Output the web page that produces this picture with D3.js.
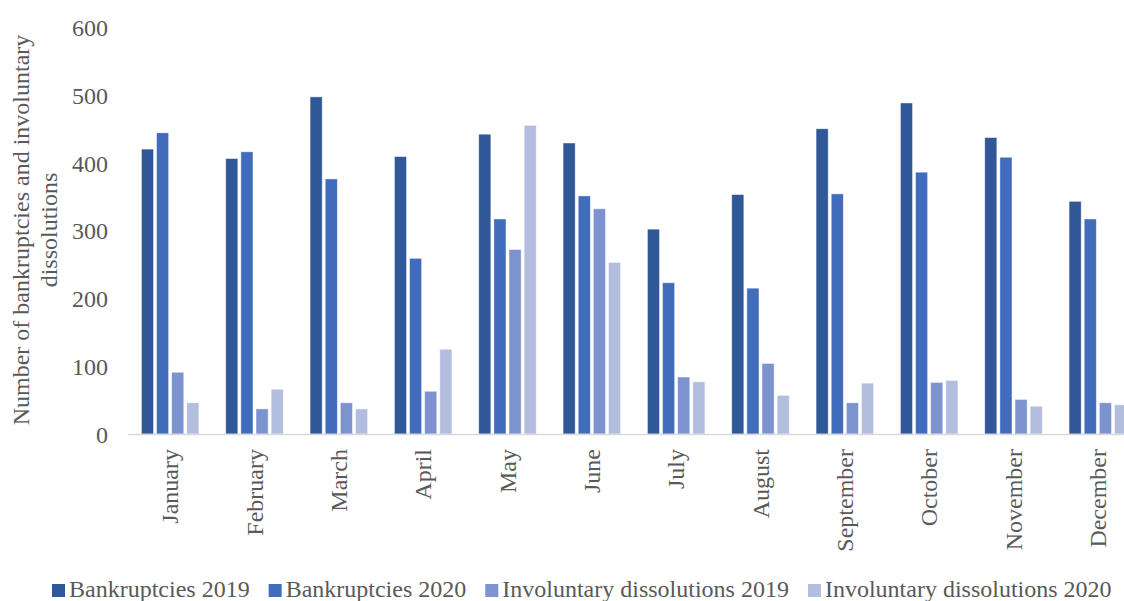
<!DOCTYPE html>
<html>
<head>
<meta charset="utf-8">
<script src="https://cdn.jsdelivr.net/npm/d3@7"></script>
<style>
  body { margin: 0; background: #fff; }
  text { font-family: "Liberation Serif", "Times New Roman", serif; fill: #595959; }
</style>
</head>
<body>
<svg id="chart" width="1124" height="601"></svg>
<script>
// month categories
var months = ['January', 'February', 'March', 'April', 'May', 'June',
              'July', 'August', 'September', 'October', 'November', 'December'];
// series names, as in the legend
var seriesNames = ['Bankruptcies 2019', 'Bankruptcies 2020',
                   'Involuntary dissolutions 2019', 'Involuntary dissolutions 2020'];
var seriesColors = ['#305797', '#416BBB', '#7C93D0', '#B3BEDF'];

// values
var bankruptcies2019 = [420, 406, 497, 409, 442, 429, 302, 353, 450, 488, 437, 343];
var bankruptcies2020 = [444, 416, 376, 259, 317, 351, 223, 215, 354, 386, 408, 317];
var dissolutions2019 = [91, 37, 46, 63, 272, 332, 84, 104, 46, 76, 51, 46];
var dissolutions2020 = [46, 66, 37, 125, 455, 253, 77, 57, 75, 79, 41, 43];
var yTicks = [0, 100, 200, 300, 400, 500, 600];

var seriesValues = [bankruptcies2019, bankruptcies2020, dissolutions2019, dissolutions2020];

var svg = d3.select('#chart');

// scales
var x = d3.scaleBand()
    .domain(months)
    .range([128, 1140])
    .paddingInner(0.318)
    .paddingOuter(0.159);
var xInner = d3.scaleBand()
    .domain(seriesNames)
    .range([0, x.bandwidth()])
    .paddingInner(0.2);
var y = d3.scaleLinear()
    .domain([0, 600])
    .range([434, 27]);

// bars
var groups = svg.append('g')
  .selectAll('g')
  .data(months)
  .join('g')
    .attr('transform', function(d) { return 'translate(' + x(d) + ',0)'; });

groups.selectAll('rect')
  .data(function(d, i) {
    return seriesNames.map(function(s, j) {
      return {series: s, color: seriesColors[j], value: seriesValues[j][i]};
    });
  })
  .join('rect')
    .attr('x', function(d) { return xInner(d.series); })
    .attr('y', function(d) { return y(d.value); })
    .attr('width', xInner.bandwidth())
    .attr('height', function(d) { return y(0) - y(d.value); })
    .attr('fill', function(d) { return d.color; })
    .attr('stroke', '#ffffff')
    .attr('stroke-opacity', 0.6)
    .attr('stroke-width', 0.75);

// x axis line
svg.append('line')
    .attr('x1', 128).attr('x2', 1124)
    .attr('y1', y(0) + 0.5).attr('y2', y(0) + 0.5)
    .attr('stroke', '#D9D9D9')
    .attr('stroke-width', 1.5);

// month labels, rotated
svg.append('g')
  .selectAll('text')
  .data(months)
  .join('text')
    .attr('transform', function(d) {
      return 'translate(' + (x(d) + x.bandwidth() / 2 + 8) + ',449) rotate(-90)';
    })
    .attr('text-anchor', 'end')
    .attr('font-size', 24)
    .text(function(d) { return d; });

// y tick labels
var yAxis = d3.axisLeft(y).tickValues(yTicks).tickSize(0).tickPadding(0);
var yg = svg.append('g')
    .attr('transform', 'translate(108,0)')
    .call(yAxis);
yg.select('.domain').remove();
yg.selectAll('text')
    .attr('font-size', 24)
    .attr('font-family', '"Liberation Serif", "Times New Roman", serif')
    .attr('fill', '#595959')
    .attr('dy', '0.35em');

// y axis title, two lines
var title = svg.append('text')
    .attr('transform', 'translate(0,230) rotate(-90)')
    .attr('text-anchor', 'middle')
    .attr('font-size', 24);
title.append('tspan').attr('x', 0).attr('y', 29)
    .text('Number of bankruptcies and involuntary');
title.append('tspan').attr('x', 0).attr('y', 57)
    .text('dissolutions');

// legend
var legend = svg.append('g');
var lx = 52;
seriesNames.forEach(function(name, i) {
  legend.append('rect')
      .attr('x', lx).attr('y', 584)
      .attr('width', 13).attr('height', 13)
      .attr('fill', seriesColors[i]);
  var t = legend.append('text')
      .attr('x', lx + 17).attr('y', 597)
      .attr('font-size', 24)
      .text(name);
  lx += 17 + t.node().getComputedTextLength() + 19;
});
</script>
</body>
</html>
